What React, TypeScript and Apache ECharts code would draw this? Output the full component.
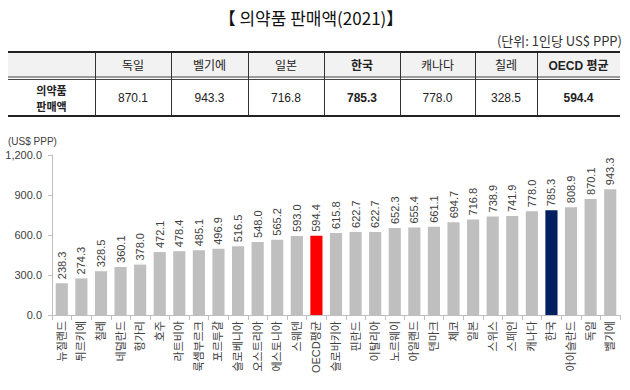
import React, { useEffect, useRef } from "react";
import * as echarts from "echarts";

const countries = [
  "뉴질랜드", "튀르키예", "칠레", "네덜란드", "헝가리", "호주", "라트비아", "룩셈부르크",
  "포르투갈", "슬로베니아", "오스트리아", "에스토니아", "스웨덴", "OECD평균", "슬로바키아",
  "핀란드", "이탈리아", "노르웨이", "아일랜드", "덴마크", "체코", "일본", "스위스", "스페인",
  "캐나다", "한국", "아이슬란드", "독일", "벨기에",
];
const sales = [
  238.3, 274.3, 328.5, 360.1, 378.0, 472.1, 478.4, 485.1, 496.9, 516.5, 548.0, 565.2, 593.0,
  594.4, 615.8, 622.7, 622.7, 652.3, 655.4, 661.1, 694.7, 716.8, 738.9, 741.9, 778.0, 785.3,
  808.9, 870.1, 943.3,
];
const yTicks = [0, 300, 600, 900, 1200];

const tableHeaders = ["독일", "벨기에", "일본", "한국", "캐나다", "칠레", "OECD 평균"];
const tableValues = [870.1, 943.3, 716.8, 785.3, 778.0, 328.5, 594.4];
const tableBold = [false, false, false, true, false, false, true];
const rowLabelLines = ["의약품", "판매액"];

const titleText = "【 의약품 판매액(2021)】";
const unitText = "(단위: 1인당 US$ PPP)";
const yUnitText = "(US$ PPP)";

const GRAY = "#bfbfbf";
const RED = "#ff0000";
const NAVY = "#002060";
const FONT = "Arial, 'Liberation Sans', 'Noto Sans CJK KR', sans-serif";
const KFONT = "'Noto Sans CJK KR', sans-serif";

function buildTable(): any[] {
  const cols = [8, 95, 171, 248, 324, 400, 475, 537, 620];
  const top = 52;
  const mid = 78;
  const bot = 116;
  const els: any[] = [];
  els.push({ type: "rect", shape: { x: cols[0], y: top, width: cols[cols.length - 1] - cols[0], height: mid - top }, style: { fill: "#f2f2f2" } });
  els.push({ type: "line", shape: { x1: cols[0], y1: top, x2: cols[cols.length - 1], y2: top }, style: { stroke: "#222", lineWidth: 2 } });
  els.push({ type: "line", shape: { x1: cols[0], y1: mid - 1, x2: cols[cols.length - 1], y2: mid - 1 }, style: { stroke: "#444", lineWidth: 1 } });
  els.push({ type: "line", shape: { x1: cols[0], y1: mid + 1.5, x2: cols[cols.length - 1], y2: mid + 1.5 }, style: { stroke: "#444", lineWidth: 1 } });
  els.push({ type: "line", shape: { x1: cols[0], y1: bot, x2: cols[cols.length - 1], y2: bot }, style: { stroke: "#222", lineWidth: 2 } });
  for (let i = 1; i < cols.length - 1; i++) {
    els.push({ type: "line", shape: { x1: cols[i] + 0.5, y1: top + 1, x2: cols[i] + 0.5, y2: bot - 1 }, style: { stroke: "#333", lineWidth: 1 } });
  }
  const cy = (mid + bot) / 2 + 1;
  rowLabelLines.forEach((t, i) => {
    els.push({
      type: "text", x: (cols[0] + cols[1]) / 2, y: cy + (i === 0 ? -8 : 8),
      style: { text: t, fontFamily: KFONT, fontSize: 11, lineHeight: 11, fontWeight: "bold", fill: "#222", align: "center", verticalAlign: "middle" },
    });
  });
  tableHeaders.forEach((h, i) => {
    const cx = (cols[i + 1] + cols[i + 2]) / 2;
    els.push({
      type: "text", x: cx, y: (top + mid) / 2 + 1,
      style: { text: h, fontFamily: FONT, fontSize: 12, fill: "#222", align: "center", verticalAlign: "middle", fontWeight: tableBold[i] ? "bold" : "normal" },
    });
    els.push({
      type: "text", x: cx, y: cy,
      style: { text: tableValues[i].toFixed(1), fontFamily: FONT, fontSize: 12, fill: "#222", align: "center", verticalAlign: "middle", fontWeight: tableBold[i] ? "bold" : "normal" },
    });
  });
  return els;
}

export default function App() {
  const ref = useRef<HTMLDivElement>(null);
  useEffect(() => {
    if (!ref.current) return;
    const chart = echarts.init(ref.current, null, { renderer: "svg" });
    const option: any = {
      animation: false,
      backgroundColor: "#ffffff",
      grid: { left: 52, right: 10, top: 155, bottom: 75, containLabel: false },
      xAxis: {
        type: "category",
        data: countries,
        axisLine: { lineStyle: { color: "#bfbfbf" } },
        axisTick: { show: true, length: 5, lineStyle: { color: "#bfbfbf" } },
        axisLabel: { interval: 0, rotate: 90, fontSize: 11, color: "#404040", fontFamily: FONT, margin: 6 },
      },
      yAxis: {
        type: "value",
        min: 0,
        max: yTicks[yTicks.length - 1],
        interval: yTicks[1] - yTicks[0],
        axisLine: { show: true, lineStyle: { color: "#bfbfbf" } },
        axisTick: { show: true, length: 4, lineStyle: { color: "#bfbfbf" } },
        splitLine: { show: false },
        axisLabel: {
          fontSize: 11, color: "#404040", fontFamily: FONT, margin: 10,
          formatter: (v: number) => v.toLocaleString("en-US", { minimumFractionDigits: 1, maximumFractionDigits: 1 }),
        },
      },
      series: [
        {
          type: "bar",
          data: sales.map((v, i) => ({
            value: v,
            itemStyle: { color: countries[i] === "OECD평균" ? RED : countries[i] === "한국" ? NAVY : GRAY },
          })),
          barWidth: "62%",
          label: {
            show: true, position: "top", rotate: 90, align: "left", verticalAlign: "middle", distance: 4,
            fontSize: 11, color: "#404040", fontFamily: FONT,
            formatter: (p: any) => Number(p.value).toFixed(1),
          },
        },
      ],
      graphic: [
        { type: "text", x: 311, y: 17, style: { text: titleText, fontFamily: KFONT, fontSize: 17, fill: "#111", align: "center", verticalAlign: "middle" } },
        { type: "text", x: 622, y: 40, style: { text: unitText, fontFamily: KFONT, fontSize: 13, fill: "#333", align: "right", verticalAlign: "middle" } },
        { type: "text", x: 8, y: 141, style: { text: yUnitText, fontFamily: FONT, fontSize: 10, fill: "#404040", align: "left", verticalAlign: "middle" } },
        ...buildTable(),
      ],
    };
    chart.setOption(option);
    return () => chart.dispose();
  }, []);
  return <div ref={ref} style={{ position: "fixed", left: 0, top: 0, width: 630, height: 390 }} />;
}
